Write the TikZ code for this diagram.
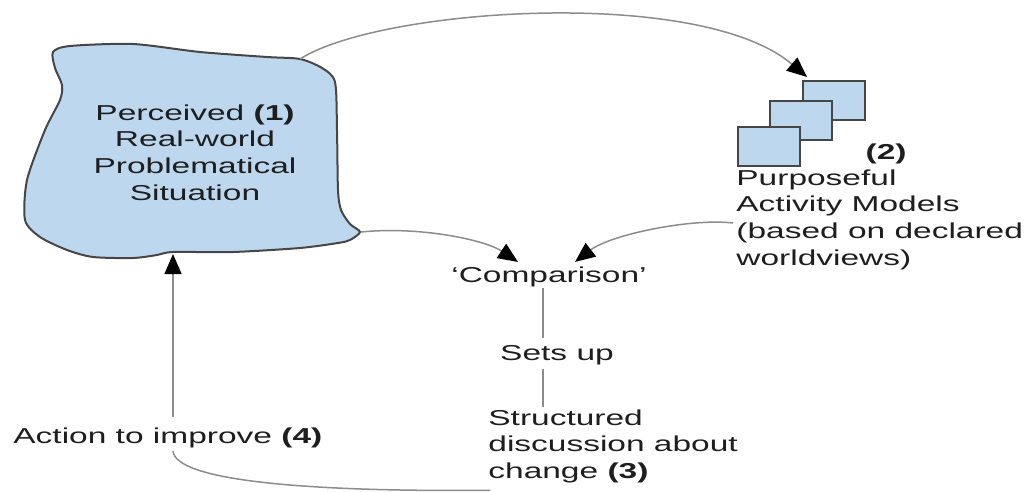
\documentclass[tikz,border=0pt]{standalone}
\usepackage{fontspec}
\setmainfont{Liberation Sans}[FakeStretch=1.55]
\usetikzlibrary{arrows.meta,calc}
\definecolor{blobfill}{RGB}{189,215,238}
\definecolor{edge}{RGB}{70,70,70}
\definecolor{linkgray}{RGB}{140,140,140}
\definecolor{ink}{RGB}{30,30,30}
\begin{document}
\begin{tikzpicture}[x=0.5pt,y=-0.5pt,
  lbl/.style={inner sep=0pt,text=ink,font=\fontsize{10.8pt}{13.35pt}\selectfont},
  model/.style={draw=edge,fill=blobfill,line width=0.9pt,minimum width=31pt,
    minimum height=19.5pt,anchor=north west,inner sep=0pt},
  link/.style={draw=linkgray,line width=0.75pt},
  tip/.style={-{Triangle[length=10pt,width=8.5pt,black]}}]
\useasboundingbox (0,0) rectangle (1034,492);

% the problem situation as a rough, hand-drawn blob
\draw[draw=edge,fill=blobfill,line width=1pt]
  plot[smooth cycle,tension=0.45] coordinates {
    (53,52) (70,46) (133,44) (200,52) (267,57) (300,59) (322,68) (335,82)
    (337,130) (338,190) (341,210) (350,224) (360,232) (350,240) (338,243)
    (300,248) (233,252) (173,252) (157,255) (133,258) (93,257) (67,250)
    (40,237) (25,220) (27,180) (45,130) (60,100) (62,85) (55,68)};
\coordinate (blobne) at (300,59);
\coordinate (blobse) at (361,232);
\coordinate (blobs) at (173,254);

\node[lbl,align=center] (sit) at (195,152.5)
  {Perceived \textbf{(1)}\\Real-world\\Problematical\\Situation};

% stacked activity models
\node[model] (m3) at (802,80) {};
\node[model] (m2) at (769,100) {};
\node[model] (m1) at (737,126) {};
\node[lbl,anchor=base east] (n2) at (907,160) {\textbf{(2)}};
\node[lbl,align=left,anchor=north west] (pam) at (736,169)
  {Purposeful\\Activity Models\\(based on declared\\worldviews)};

\node[lbl,anchor=base] (cmp) at (549,282) {‘Comparison’};
\node[lbl,anchor=base] (sets) at (557,360) {Sets up};
\node[lbl,align=left,anchor=north west] (disc) at (488,409)
  {Structured\\discussion about\\change \textbf{(3)}};
\node[lbl,anchor=base west] (act) at (13,443) {Action to improve \textbf{(4)}};

% connectors
\draw[link,tip] (blobne) .. controls (380,8) and (700,-14) .. ($(m3.north west)+(5,-3)$);
\draw[link,tip] (blobse) .. controls (420,226) and (485,240) .. ($(cmp.north)+(-31,-4)$);
\draw[link,tip] ($(pam.north west)+(-3,54)$) .. controls (690,218) and (610,235) .. ($(cmp.north)+(26,-4)$);
\coordinate (stem) at (543,0);
\draw[link] ($(cmp.south -| stem)+(0,1)$) -- ($(sets.north -| stem)+(0,-7)$);
\draw[link] ($(sets.south -| stem)+(0,4)$) -- ($(disc.north -| stem)+(0,-2)$);
\draw[link] ($(disc.south west)+(2,7)$) .. controls (300,492) and (175,480) .. ($(act.south west)+(160,3)$);
\draw[link,tip] ($(act.north west)+(160,-10)$) -- (blobs);
\end{tikzpicture}
\end{document}
